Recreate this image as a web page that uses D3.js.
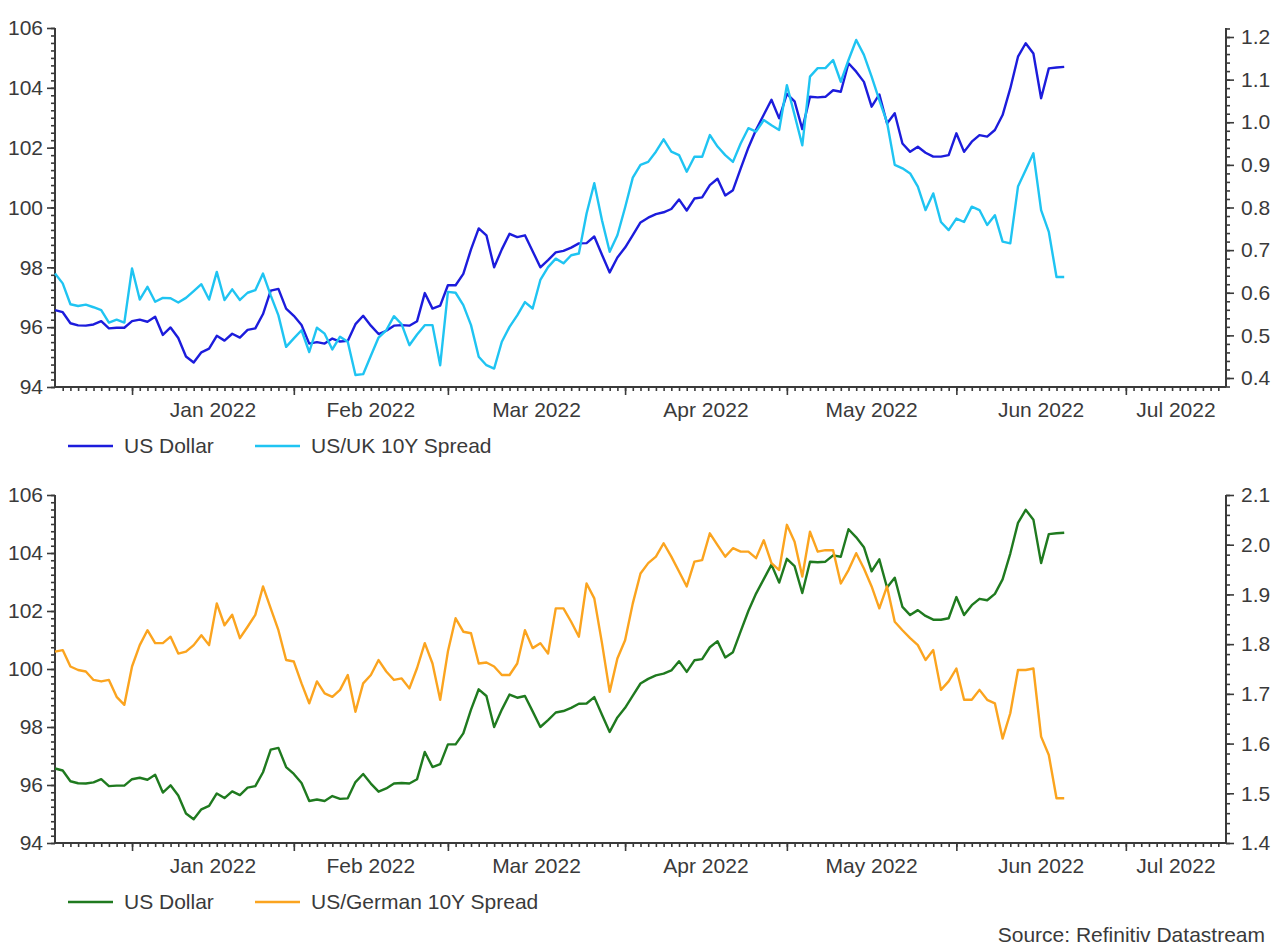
<!DOCTYPE html>
<html><head><meta charset="utf-8">
<script src="https://cdn.jsdelivr.net/npm/d3@7"></script>
<style>
body{margin:0;background:#fff}
svg{display:block}
text{font-family:"Liberation Sans",Arial,Helvetica,sans-serif;fill:#3a3a3a}
</style>
</head><body>
<svg id="chart" width="1280" height="948"></svg>
<script>
// ---------- data (business-day series starting 20 Dec 2021) ----------
const seriesStart = "2021-12-20";
const axisEnd = "2022-07-20";
const monthLabels = ["Jan 2022","Feb 2022","Mar 2022","Apr 2022","May 2022","Jun 2022","Jul 2022"];
const legendTop = ["US Dollar","US/UK 10Y Spread"];
const legendBottom = ["US Dollar","US/German 10Y Spread"];
const sourceText = "Source: Refinitiv Datastream";

const usDollar = [
96.57,96.50,96.13,96.06,96.05,96.09,96.20,95.96,95.98,95.98,
96.20,96.25,96.18,96.35,95.74,95.99,95.64,95.02,94.82,95.16,
95.28,95.71,95.55,95.78,95.65,95.91,95.96,96.44,97.22,97.28,
96.62,96.38,96.07,95.45,95.50,95.45,95.62,95.52,95.54,96.10,
96.38,96.05,95.77,95.88,96.05,96.07,96.05,96.20,97.14,96.62,
96.72,97.40,97.40,97.78,98.60,99.30,99.07,98.00,98.60,99.12,
99.01,99.07,98.54,98.00,98.24,98.50,98.55,98.66,98.80,98.81,
99.03,98.42,97.83,98.33,98.66,99.08,99.50,99.66,99.78,99.84,
99.95,100.27,99.90,100.30,100.34,100.75,100.96,100.40,100.58,101.30,
102.00,102.60,103.10,103.60,102.98,103.80,103.55,102.62,103.70,103.68,
103.70,103.92,103.87,104.82,104.54,104.20,103.37,103.78,102.81,103.15,
102.14,101.86,102.03,101.83,101.70,101.70,101.75,102.48,101.86,102.20,
102.42,102.37,102.59,103.09,103.98,105.04,105.49,105.15,103.65,104.65,
104.68,104.70];

const usUkSpread = [
0.645,0.622,0.573,0.569,0.572,0.566,0.559,0.530,0.537,0.530,
0.657,0.584,0.614,0.579,0.588,0.587,0.577,0.588,0.604,0.620,
0.584,0.649,0.583,0.608,0.583,0.600,0.606,0.645,0.594,0.547,
0.473,0.493,0.512,0.461,0.518,0.504,0.467,0.497,0.485,0.407,
0.409,0.452,0.495,0.512,0.545,0.526,0.477,0.502,0.524,0.524,
0.430,0.602,0.600,0.571,0.524,0.450,0.430,0.422,0.485,0.520,
0.547,0.578,0.563,0.630,0.660,0.680,0.669,0.688,0.692,0.786,
0.857,0.770,0.696,0.735,0.800,0.870,0.900,0.907,0.931,0.960,
0.931,0.923,0.884,0.919,0.919,0.970,0.943,0.923,0.907,0.950,
0.986,0.978,1.005,0.993,0.982,1.087,1.017,0.946,1.107,1.127,
1.127,1.146,1.095,1.146,1.193,1.158,1.107,1.052,1.000,0.900,
0.892,0.880,0.849,0.794,0.833,0.766,0.747,0.774,0.766,0.802,
0.794,0.759,0.782,0.720,0.716,0.849,0.888,0.927,0.794,0.743,
0.637,0.637];

const usDeSpread = [
1.785,1.788,1.755,1.748,1.745,1.728,1.725,1.728,1.694,1.678,
1.755,1.798,1.828,1.802,1.802,1.815,1.781,1.785,1.798,1.818,
1.798,1.882,1.838,1.859,1.812,1.835,1.859,1.916,1.872,1.828,
1.768,1.765,1.721,1.681,1.725,1.701,1.694,1.708,1.738,1.664,
1.721,1.738,1.768,1.745,1.728,1.731,1.711,1.752,1.802,1.761,
1.688,1.785,1.852,1.825,1.822,1.761,1.763,1.755,1.738,1.738,
1.761,1.828,1.792,1.802,1.781,1.872,1.872,1.845,1.815,1.922,
1.892,1.802,1.704,1.771,1.808,1.882,1.942,1.963,1.976,2.003,
1.976,1.946,1.916,1.966,1.969,2.023,1.999,1.976,1.993,1.986,
1.986,1.973,2.009,1.963,1.949,2.040,2.006,1.936,2.026,1.986,
1.989,1.989,1.922,1.949,1.983,1.952,1.916,1.872,1.916,1.845,
1.828,1.812,1.798,1.768,1.788,1.708,1.725,1.751,1.688,1.688,
1.708,1.688,1.681,1.610,1.661,1.748,1.748,1.751,1.614,1.577,
1.490,1.490];

const leftTicks = [94,96,98,100,102,104,106];
const rightTicksTop = [0.4,0.5,0.6,0.7,0.8,0.9,1.0,1.1,1.2];
const rightTicksBottom = [1.4,1.5,1.6,1.7,1.8,1.9,2.0,2.1];

// ---------- layout ----------
const parse = d3.timeParse("%Y-%m-%d");
const bizDays = d3.timeDay.range(parse(seriesStart), parse(axisEnd)).filter(d => d.getDay() !== 0 && d.getDay() !== 6);
const nDays = bizDays.length; // index of axis end
const X0 = 55, X1 = 1226;
const x = d3.scaleLinear().domain([0, nDays]).range([X0, X1]);

const monthStarts = [];
bizDays.forEach((d, i) => { if (i > 0 && d.getMonth() !== bizDays[i-1].getMonth()) monthStarts.push(i); });

const svg = d3.select("#chart");
const colAxis = "#3a3a3a";

function panel(cfg) {
  const g = svg.append("g");
  const yL = d3.scaleLinear().domain([94,106]).range([cfg.bottom, cfg.top]);
  const yR = d3.scaleLinear().domain(cfg.rDomain).range(cfg.rRange);

  // minor ticks
  g.append("g").attr("transform", `translate(${X0},0)`)
    .call(d3.axisLeft(yL).tickValues(d3.range(94, 106.001, 0.25)).tickSize(4).tickFormat(""))
    .call(a => a.select(".domain").remove());
  g.append("g").attr("transform", `translate(${X1},0)`)
    .call(d3.axisRight(yR).tickValues(cfg.rMinor).tickSize(4).tickFormat(""))
    .call(a => a.select(".domain").remove());
  g.append("g").attr("transform", `translate(0,${cfg.bottom})`)
    .call(d3.axisBottom(x).tickValues(d3.range(1, nDays)).tickSize(4).tickFormat(""))
    .call(a => a.select(".domain").remove());

  // major ticks
  g.append("g").attr("transform", `translate(${X0},0)`)
    .call(d3.axisLeft(yL).tickValues(leftTicks).tickSize(8).tickPadding(4).tickFormat(d3.format("d")))
    .call(a => a.select(".domain").remove());
  g.append("g").attr("transform", `translate(${X1},0)`)
    .call(d3.axisRight(yR).tickValues(cfg.rTicks).tickSize(8).tickPadding(7).tickFormat(d3.format(".1f")))
    .call(a => a.select(".domain").remove());
  g.append("g").attr("transform", `translate(0,${cfg.bottom})`)
    .call(d3.axisBottom(x).tickValues(monthStarts).tickSize(8).tickFormat(""))
    .call(a => a.select(".domain").remove());

  g.selectAll(".tick line").attr("stroke", colAxis).attr("stroke-width", 1.6);
  g.selectAll(".tick text").style("font-size", "21px").attr("fill", colAxis);

  // frame
  g.append("line").attr("x1", X0).attr("x2", X0).attr("y1", cfg.top).attr("y2", cfg.bottom).attr("stroke", colAxis).attr("stroke-width", 2);
  g.append("line").attr("x1", X1).attr("x2", X1).attr("y1", cfg.top).attr("y2", cfg.bottom).attr("stroke", colAxis).attr("stroke-width", 2);
  g.append("line").attr("x1", X0).attr("x2", X1).attr("y1", cfg.bottom).attr("y2", cfg.bottom).attr("stroke", colAxis).attr("stroke-width", 2);

  // month labels centered between month starts
  const bounds = monthStarts.concat([nDays]);
  monthLabels.forEach((lab, i) => {
    g.append("text").attr("x", (x(bounds[i]) + x(bounds[i+1])) / 2).attr("y", cfg.bottom + 30)
      .attr("text-anchor", "middle").style("font-size", "21px").text(lab);
  });

  // lines
  const lineL = d3.line().x((d, i) => x(i)).y(d => yL(d));
  const lineR = d3.line().x((d, i) => x(i)).y(d => yR(d));
  g.append("path").datum(usDollar).attr("d", lineL).attr("fill", "none")
    .attr("stroke", cfg.cL).attr("stroke-width", 2.4).attr("stroke-linejoin", "round");
  g.append("path").datum(cfg.rData).attr("d", lineR).attr("fill", "none")
    .attr("stroke", cfg.cR).attr("stroke-width", 2.4).attr("stroke-linejoin", "round");

  // legend
  const ly = cfg.legendY;
  [[68, cfg.cL, cfg.legend[0]], [255, cfg.cR, cfg.legend[1]]].forEach(([lx, c, t]) => {
    g.append("line").attr("x1", lx).attr("x2", lx + 45).attr("y1", ly).attr("y2", ly).attr("stroke", c).attr("stroke-width", 2.6);
    g.append("text").attr("x", lx + 56).attr("y", ly + 7).style("font-size", "21px").text(t);
  });
}

// top panel rDomain extends from 0.379 to 1.221 (ticks 0.4..1.2 at 378..37)
panel({top: 28, bottom: 387, rDomain: [0.4, 1.2], rRange: [378, 37],
  rTicks: rightTicksTop, rMinor: d3.range(0.38, 1.2201, 0.02),
  rData: usUkSpread, cL: "#1c1cdc", cR: "#1fc4f2", legend: legendTop, legendY: 446});

panel({top: 495, bottom: 843, rDomain: [1.4, 2.1], rRange: [843, 495],
  rTicks: rightTicksBottom, rMinor: d3.range(1.4, 2.1001, 0.02),
  rData: usDeSpread, cL: "#1f7a1f", cR: "#fba41f", legend: legendBottom, legendY: 902});

svg.append("text").attr("x", 1265).attr("y", 942).attr("text-anchor", "end")
  .style("font-size", "21px").text(sourceText);
</script>
</body></html>
